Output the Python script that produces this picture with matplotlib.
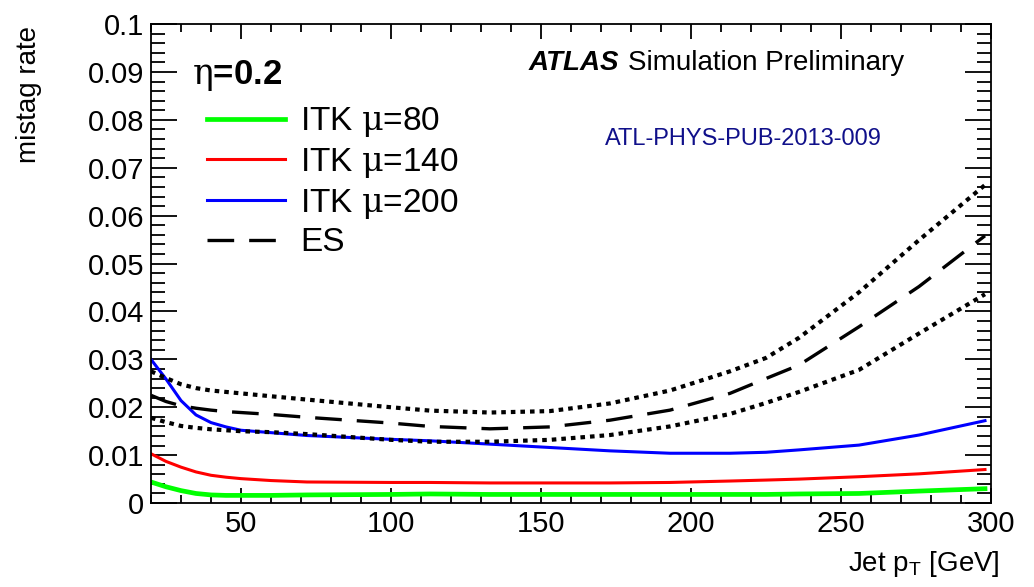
import matplotlib
matplotlib.use("Agg")
import matplotlib.pyplot as plt
from matplotlib.ticker import MultipleLocator, FuncFormatter

plt.rcParams['font.family'] = ['Liberation Sans', 'DejaVu Sans']
plt.rcParams['mathtext.fontset'] = 'dejavuserif'

# jet pT points
jet_pt = [20, 25, 30, 35, 40, 45, 50, 60, 72, 100, 113, 133, 153, 173, 193, 213, 225, 236, 256, 276, 298]

itk_mu80 = [0.0044, 0.0034, 0.0026, 0.0020, 0.0017, 0.0016, 0.0016, 0.0016, 0.0017, 0.0018, 0.0019,
            0.0018, 0.0018, 0.0018, 0.0018, 0.0018, 0.0018, 0.0019, 0.0020, 0.0025, 0.0030]
itk_mu140 = [0.0103, 0.0087, 0.0075, 0.0065, 0.0058, 0.0054, 0.0051, 0.0047, 0.0044, 0.0043, 0.0043,
             0.0042, 0.0042, 0.0042, 0.0043, 0.0046, 0.0048, 0.0050, 0.0055, 0.0061, 0.0070]
itk_mu200 = [0.0300, 0.0259, 0.0214, 0.0184, 0.0168, 0.0159, 0.0152, 0.0147, 0.0141, 0.0133, 0.0130,
             0.0123, 0.0116, 0.0109, 0.0104, 0.0104, 0.0106, 0.0111, 0.0121, 0.0142, 0.0172]
es = [0.0225, 0.0212, 0.0203, 0.0198, 0.0194, 0.0191, 0.0189, 0.0185, 0.0179, 0.0167, 0.0160,
      0.0155, 0.0159, 0.0173, 0.0194, 0.0229, 0.0260, 0.0288, 0.0368, 0.0452, 0.0558]
es_up = [0.0275, 0.0261, 0.0248, 0.0240, 0.0235, 0.0232, 0.0229, 0.0223, 0.0216, 0.0200, 0.0193,
         0.0189, 0.0192, 0.0208, 0.0235, 0.0275, 0.0303, 0.0345, 0.0440, 0.0549, 0.0664]
es_down = [0.0178, 0.0169, 0.0161, 0.0157, 0.0154, 0.0152, 0.0150, 0.0148, 0.0144, 0.0132, 0.0128,
           0.0128, 0.0132, 0.0142, 0.0160, 0.0186, 0.0209, 0.0232, 0.0278, 0.0354, 0.0436]

labels = ['ITK $\\mathrm{\\mu}$=80', 'ITK $\\mathrm{\\mu}$=140', 'ITK $\\mathrm{\\mu}$=200', 'ES']

fig = plt.figure(figsize=(10.34, 5.87), dpi=100)
ax = fig.add_axes([0.146, 0.143, 0.8124, 0.816])

ax.plot(jet_pt, itk_mu80, color='#00ff00', lw=3.4, label=labels[0])
ax.plot(jet_pt, itk_mu140, color='#ff0000', lw=2.2, label=labels[1])
ax.plot(jet_pt, itk_mu200, color='#0000ff', lw=2.2, label=labels[2])
ax.plot(jet_pt, es, color='black', lw=2.4, dashes=(8, 4.5), label=labels[3])
ax.plot(jet_pt, es_up, color='black', lw=3.0, dashes=(1.1, 1.2))
ax.plot(jet_pt, es_down, color='black', lw=3.0, dashes=(1.1, 1.2))

ax.set_xlim(20, 300)
ax.set_ylim(0, 0.1)

ax.xaxis.set_major_locator(MultipleLocator(50))
ax.xaxis.set_minor_locator(MultipleLocator(10))
ax.yaxis.set_major_locator(MultipleLocator(0.01))
ax.yaxis.set_minor_locator(MultipleLocator(0.002))
ax.yaxis.set_major_formatter(FuncFormatter(lambda v, p: ('%.2f' % v).rstrip('0').rstrip('.') if v > 1e-9 else '0'))

ax.tick_params(axis='both', which='both', direction='in', top=True, right=True,
               width=1.3, labelsize=21)
ax.tick_params(axis='y', which='major', length=19, pad=5)
ax.tick_params(axis='y', which='minor', length=10)
ax.tick_params(axis='x', which='major', length=10.5, pad=5)
ax.tick_params(axis='x', which='minor', length=6)
for s in ax.spines.values():
    s.set_linewidth(1.3)

ax.set_ylabel('mistag rate', fontsize=20)
ax.yaxis.set_label_coords(-0.13, 0.852)
ax.set_xlabel('Jet p$_\\mathregular{T}$ [GeV]', fontsize=20)
ax.xaxis.set_label_coords(1.0107, -0.095)
ax.xaxis.label.set_horizontalalignment('right')

ax.text(0.0488, 0.875, '$\\mathrm{\\eta}$=0.2', transform=ax.transAxes, fontsize=25,
        fontweight='bold', va='baseline')
ax.text(0.45, 0.904, 'ATLAS', transform=ax.transAxes, fontsize=20,
        fontweight='bold', fontstyle='italic', va='baseline')
ax.text(0.568, 0.904, 'Simulation Preliminary', transform=ax.transAxes,
        fontsize=20, va='baseline')
ax.text(0.54, 0.747, 'ATL-PHYS-PUB-2013-009', transform=ax.transAxes,
        fontsize=17, color='#10108a', va='baseline')

ax.legend(loc='upper left', bbox_to_anchor=(0.0667, 0.83), frameon=False,
          fontsize=24, handlelength=2.34, handletextpad=0.45,
          borderpad=0, borderaxespad=0, labelspacing=0.2)

plt.savefig('out.png', dpi=100)
